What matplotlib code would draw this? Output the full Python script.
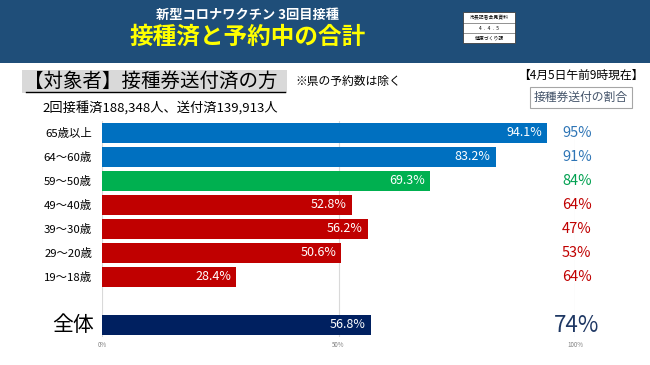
import matplotlib
matplotlib.use('Agg')
import matplotlib.pyplot as plt
from matplotlib.patches import Rectangle
from matplotlib.lines import Line2D

plt.rcParams['font.family'] = ['Noto Sans CJK JP', 'DejaVu Sans']

# data
categories = ['65歳以上', '64～60歳', '59～50歳', '49～40歳',
              '39～30歳', '29～20歳', '19～18歳', '全体']
vaccinated_pct = [94.1, 83.2, 69.3, 52.8, 56.2, 50.6, 28.4, 56.8]
sent_ratio_pct = [95, 91, 84, 64, 47, 53, 64, 74]
bar_colors = ['#0070C0', '#0070C0', '#00B050', '#C00000',
              '#C00000', '#C00000', '#C00000', '#002060']
ratio_colors = ['#2E75B6', '#2E75B6', '#00A050', '#C00000',
                '#C00000', '#C00000', '#C00000', '#1F3864']
positions = [0, 1, 2, 3, 4, 5, 6, 8]
x_ticks = [0, 0.5, 1.0]
x_tick_labels = ['0%', '50%', '100%']

W, H = 650, 365


def fx(px):
    return px / W


def fy(py):
    return 1 - py / H


fig = plt.figure(figsize=(W / 100, H / 100), dpi=100)

# header band
fig.add_artist(Rectangle((0, fy(63)), 1, 63 / H, transform=fig.transFigure,
                         facecolor='#1F4E79', edgecolor='none'))
fig.text(fx(248), fy(15), '新型コロナワクチン 3回目接種', color='white',
         fontsize=9.5, fontweight='bold', ha='center', va='center')
fig.text(fx(248), fy(37), '接種済と予約中の合計', color='#FFFF00',
         fontsize=17, fontweight='bold', ha='center', va='center')

# small stamp box, top right
fig.add_artist(Rectangle((fx(463), fy(43)), 52 / W, 31 / H,
                         transform=fig.transFigure, facecolor='white',
                         edgecolor='#404040', lw=0.6))
for yy in (22.5, 33):
    fig.add_artist(Line2D([fx(463), fx(515)], [fy(yy), fy(yy)],
                          color='#404040', lw=0.4))
fig.text(fx(489), fy(17.5), '市長記者会見資料', fontsize=3.5, ha='center', va='center')
fig.text(fx(489), fy(28), '4  .  4  .  5', fontsize=3.5, ha='center', va='center')
fig.text(fx(489), fy(38.5), '健康づくり課', fontsize=3.5, ha='center', va='center')

# sub heading
fig.add_artist(Rectangle((fx(22), fy(93)), 265 / W, 23 / H,
                         transform=fig.transFigure, facecolor='#D9D9D9',
                         edgecolor='none'))
fig.text(fx(24), fy(81), '【対象者】接種券送付済の方', fontsize=14,
         ha='left', va='center')
fig.add_artist(Line2D([fx(26), fx(285)], [fy(91.5), fy(91.5)],
                      color='black', lw=1))
fig.text(fx(295), fy(81), '※県の予約数は除く', fontsize=8.5, ha='left', va='center')
fig.text(fx(42), fy(108), '2回接種済188,348人、送付済139,913人', fontsize=9.5,
         ha='left', va='center')
fig.text(fx(643), fy(75), '【4月5日午前9時現在】', fontsize=8.5,
         ha='right', va='center')
fig.text(fx(581), fy(97.5), '接種券送付の割合', fontsize=8.5, color='#44546A',
         ha='center', va='center',
         bbox=dict(boxstyle='square,pad=0.3', facecolor='white',
                   edgecolor='#A6A6A6', lw=0.8))

# bar chart
ax = fig.add_axes([fx(102), fy(337), 473 / W, 216 / H])
ax.barh(positions, [v / 100 for v in vaccinated_pct], height=0.8,
        color=bar_colors, zorder=2)
ax.set_xlim(0, 1)
ax.set_ylim(8.5, -0.5)
ax.set_xticks(x_ticks)
ax.set_xticklabels(x_tick_labels, fontsize=4.5, color='#808080')
ax.set_yticks([])
ax.tick_params(axis='x', length=0, pad=3)
ax.xaxis.grid(True, color='#D9D9D9', lw=0.8, zorder=0)
for s in ax.spines.values():
    s.set_visible(False)

for i, pos in enumerate(positions):
    big = categories[i] == '全体'
    ax.text(vaccinated_pct[i] / 100 - 0.011, pos, f'{vaccinated_pct[i]}%',
            ha='right', va='center', color='white', fontsize=9, zorder=3)
    ax.text(-0.016 if big else -0.021, pos, categories[i], ha='right',
            va='center', fontsize=15 if big else 8.2)
    ax.text(1.004, pos, f'{sent_ratio_pct[i]}%', ha='center', va='center',
            fontsize=16 if big else 10.5, color=ratio_colors[i], clip_on=False)

fig.savefig('out.png', dpi=100)
